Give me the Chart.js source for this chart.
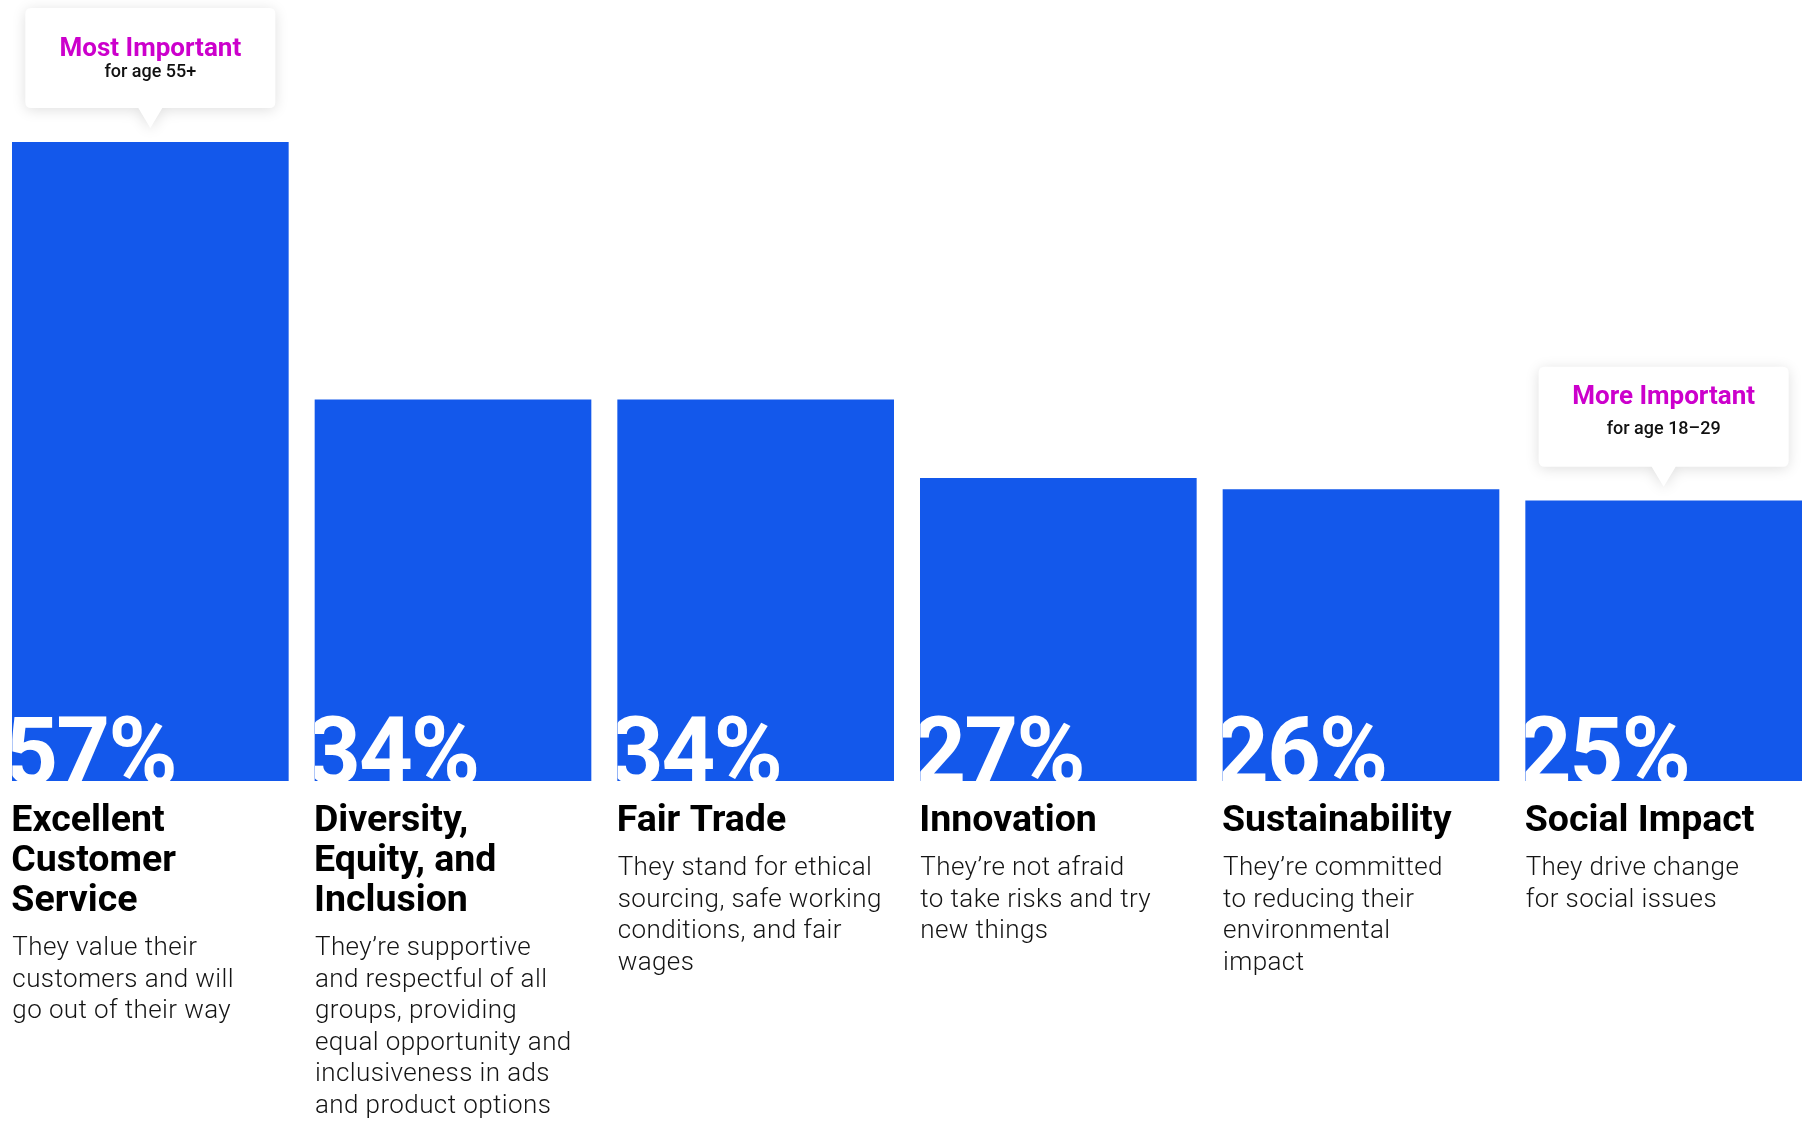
<!DOCTYPE html>
<html>
<head>
<meta charset="utf-8">
<title>What matters most in a brand</title>
<script src="https://cdn.jsdelivr.net/npm/chart.js@4.4.1/dist/chart.umd.min.js"></script>
<style>
  html, body { margin: 0; padding: 0; background: #fff; overflow: hidden; }
  #wrap { position: absolute; left: -1px; top: 0; width: 1816px; height: 1122px; }
</style>
</head>
<body>
<div id="wrap"><canvas id="brandChart"></canvas></div>
<script>
// Brand qualities — share of respondents who rate each one as important

const categories = [
  ['Excellent', 'Customer', 'Service'],
  ['Diversity,', 'Equity, and', 'Inclusion'],
  ['Fair Trade'],
  ['Innovation'],
  ['Sustainability'],
  ['Social Impact']
];

const values = [57, 34, 34, 27, 26, 25];

const descriptions = [
  ['They value their', 'customers and will', 'go out of their way'],
  ['They\u2019re supportive', 'and respectful of all', 'groups, providing', 'equal opportunity and', 'inclusiveness in ads', 'and product options'],
  ['They stand for ethical', 'sourcing, safe working', 'conditions, and fair', 'wages'],
  ['They\u2019re not afraid', 'to take risks and try', 'new things'],
  ['They\u2019re committed', 'to reducing their', 'environmental', 'impact'],
  ['They drive change', 'for social issues']
];

// callouts pinned above a bar: [bar index, headline, sub line]
const callouts = [
  [0, 'Most Important', 'for age 55+'],
  [5, 'More Important', 'for age 18\u201329']
];

const BLUE = '#1358eb';
const MAGENTA = '#cc00cc';
const FONT = 'Roboto, "Noto Sans", sans-serif';

// text offsets inside each callout box (title baseline, sub baseline)
const calloutText = {
  0: [48, 69],
  5: [37, 67]
};

function barRect(bar) {
  return {
    left: bar.x - bar.width / 2,
    right: bar.x + bar.width / 2,
    top: bar.y,
    bottom: bar.base
  };
}

const percentLabels = {
  id: 'percentLabels',
  afterDatasetsDraw: function (chart) {
    const ctx = chart.ctx;
    const meta = chart.getDatasetMeta(0);
    meta.data.forEach(function (bar, i) {
      const r = barRect(bar);
      ctx.save();
      ctx.beginPath();
      ctx.rect(r.left, r.top, r.right - r.left, r.bottom - r.top);
      ctx.clip();
      ctx.fillStyle = '#ffffff';
      ctx.font = 'bold 94px ' + FONT;
      ctx.letterSpacing = '-2px';
      ctx.textAlign = 'left';
      ctx.textBaseline = 'alphabetic';
      ctx.fillText(values[i] + '%', r.left - 8, r.bottom + 3);
      ctx.restore();
    });
  }
};

const categoryText = {
  id: 'categoryText',
  afterDraw: function (chart) {
    const ctx = chart.ctx;
    const meta = chart.getDatasetMeta(0);
    ctx.save();
    ctx.textAlign = 'left';
    ctx.textBaseline = 'alphabetic';
    meta.data.forEach(function (bar, i) {
      const r = barRect(bar);
      let y = r.bottom + 50;
      ctx.fillStyle = '#000000';
      ctx.font = 'bold 37.5px ' + FONT;
      ctx.letterSpacing = '0px';
      categories[i].forEach(function (line, k) {
        if (k > 0) y += 40;
        ctx.fillText(line, r.left - 1, y);
      });
      y += 44;
      ctx.fillStyle = '#141414';
      ctx.font = '300 26px ' + FONT;
      ctx.letterSpacing = '0.4px';
      descriptions[i].forEach(function (line, k) {
        if (k > 0) y += 31.5;
        ctx.fillText(line, r.left, y);
      });
    });
    ctx.restore();
  }
};

const calloutBoxes = {
  id: 'calloutBoxes',
  afterDraw: function (chart) {
    const ctx = chart.ctx;
    const meta = chart.getDatasetMeta(0);
    callouts.forEach(function (c) {
      const bar = meta.data[c[0]];
      const w = 250, h = 100, rad = 6;
      const cx = bar.x;
      const bottom = bar.y - 34;
      const top = bottom - h;
      const left = cx - w / 2;
      const right = cx + w / 2;
      const tipY = bar.y - 14;

      ctx.save();
      ctx.beginPath();
      ctx.moveTo(left + rad, top);
      ctx.lineTo(right - rad, top);
      ctx.quadraticCurveTo(right, top, right, top + rad);
      ctx.lineTo(right, bottom - rad);
      ctx.quadraticCurveTo(right, bottom, right - rad, bottom);
      ctx.lineTo(cx + 12, bottom);
      ctx.lineTo(cx, tipY);
      ctx.lineTo(cx - 12, bottom);
      ctx.lineTo(left + rad, bottom);
      ctx.quadraticCurveTo(left, bottom, left, bottom - rad);
      ctx.lineTo(left, top + rad);
      ctx.quadraticCurveTo(left, top, left + rad, top);
      ctx.closePath();
      ctx.shadowColor = 'rgba(0, 0, 0, 0.13)';
      ctx.shadowBlur = 14;
      ctx.shadowOffsetY = 2;
      ctx.fillStyle = '#ffffff';
      ctx.fill();
      ctx.restore();

      const off = calloutText[c[0]];
      ctx.save();
      ctx.textAlign = 'center';
      ctx.textBaseline = 'alphabetic';
      ctx.fillStyle = MAGENTA;
      ctx.font = 'bold 26px ' + FONT;
      ctx.fillText(c[1], cx, top + off[0]);
      ctx.fillStyle = '#111111';
      ctx.font = '500 18px ' + FONT;
      ctx.fillText(c[2], cx, top + off[1]);
      ctx.restore();
    });
  }
};

new Chart(document.getElementById('brandChart'), {
  type: 'bar',
  data: {
    labels: categories.map(function (c) { return c.join(' '); }),
    datasets: [{
      data: values,
      backgroundColor: BLUE,
      borderWidth: 0,
      barThickness: 276
    }]
  },
  options: {
    responsive: true,
    maintainAspectRatio: false,
    animation: false,
    layout: { padding: { top: 142, bottom: 341, left: 0, right: 0 } },
    plugins: {
      legend: { display: false },
      tooltip: { enabled: false }
    },
    scales: {
      x: { display: false },
      y: { display: false, min: 0, max: 57 }
    }
  },
  plugins: [percentLabels, categoryText, calloutBoxes]
});
</script>
</body>
</html>
